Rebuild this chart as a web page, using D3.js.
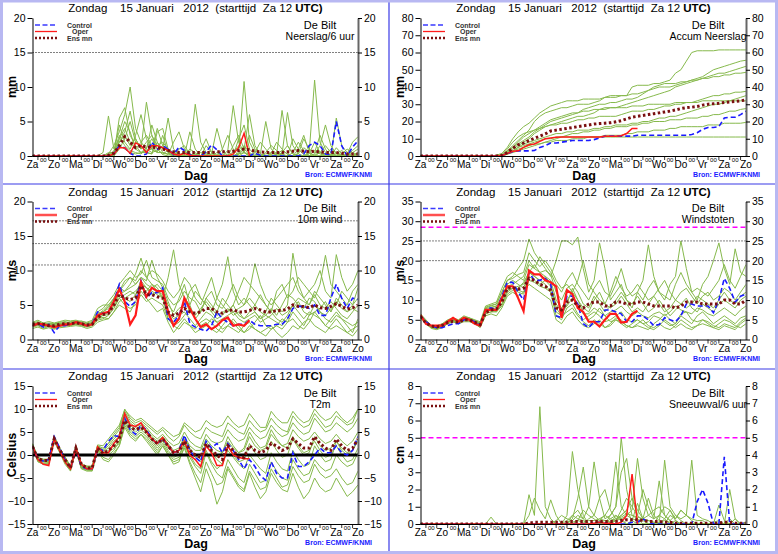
<!DOCTYPE html>
<meta charset="utf-8">
<script src="https://d3js.org/d3.v7.min.js"></script>
<style>
  body { margin: 0; background: #fff; }
</style>
<div id="pluim"></div>
<script>
// ---- data (6-hourly steps from Za 12 UTC, 61 steps = 15 days) ----
var dayLabels = ["Za","Zo","Ma","Di","Wo","Do","Vr","Za","Zo","Ma","Di","Wo","Do","Vr","Za","Zo"];

// Neerslag / 6 uur (mm)
var rainCtrl = [0,0,0,0, 0,0,0,0, 0,0,0,0, 0,0,0,0.3, 1.5,1.2,0.4,0, 0,0.3,2.0,1.0, 1.5,1.0,0.2,1.3, 0.8,0.2,0,0, 0.6,1.6,0.9,0, 0,0,0,0, 0,0.4,0.1,0, 0,0,0,0, 0,0,0.3,1.5, 2.0,1.5,0.3,0.2, 5.0,1.5,0,1.3, 2.2];
var rainOper = [0,0,0,0, 0,0,0,0, 0,0,0,0, 0,0,0,0.3, 1.2,1.2,0.4,1.9, 1.5,0.5,1.5,1.5, 1.2,0.8,0.3,0.1, 0.4,0.1,0,0, 0,0,0,0, 0,0.3,1.2,3.3, 0];
var rainMean = [0,0,0,0, 0,0,0,0, 0,0,0,0, 0,0,0.1,0.4, 1.5,2.8,2.0,1.2, 1.5,1.3,1.3,1.2, 1.0,0.8,0.6,0.5, 0.5,0.5,0.5,0.5, 0.5,0.5,0.6,0.6, 0.6,0.7,0.8,1.0, 0.9,0.7,0.6,0.5, 0.5,0.5,0.5,0.6, 0.7,0.8,0.7,0.6, 0.7,0.6,0.5,0.5, 0.5,0.4,0.3,0.3, 0.3];
var rainMembers = [
  [0,0,0,0, 0,0,0,0, 0,0,0,0, 0,0.5,5.8,1.0, 2.5,4.0,2.0,1.0, 0.5,1.2,2.5,1.0, 0.3,0.8,0.2,0, 0,0.5,7.5,2.0, 0.5,0.2,0,0, 0,1.5,3.0,1.0, 0.3,0,0,0.5, 1.5,0.8,0.2,0, 0,0.4,1.2,0.6, 0,0,0.3,1.0, 0.5,0.2,0,0.8, 1.5],
  [0,0,0,0, 0,0,0,0, 0,0,0,0, 0,0,0.3,1.5, 3.5,6.0,10.0,4.0, 2.0,1.0,0.5,0.8, 1.5,0.5,0,0, 0.2,1.0,0.5,0, 0,0.3,4.0,1.0, 0,0,0.5,10.8, 2.0,0.5,0,0, 0,0.3,0.8,0.3, 0,0,0,0.5, 11.0,2.0,0.5,0, 0,0.3,1.0,0.5, 0.2],
  [0,0,0,0, 0,0,0,0, 0,0,0,0, 0,0,0,0.8, 2.0,3.0,1.5,2.5, 1.0,7.8,3.0,1.5, 2.0,1.0,0.5,0.3, 0,0,0.2,0.5, 0.3,0,0,0, 0.8,7.3,2.0,0.5, 0,0,0.3,5.0, 1.0,0.3,0,0, 0.5,2.0,0.8,0, 0,0.5,0.3,0, 5.5,1.5,0.5,0, 0.5],
  [0,0,0,0, 0,0,0,0, 0,0,0,0, 0,0,0.5,0.5, 4.5,2.0,1.0,3.0, 6.0,2.5,1.0,4.0, 1.5,0.5,0.3,0.2, 0.5,0.3,0,0, 1.5,0.5,0,0, 0,0,0.2,1.0, 6.0,1.5,0.3,0, 0,0,0.5,1.5, 0.3,0,0,0, 0.2,0.5,1.5,0.5, 0,0,0.3,2.0, 2.8],
  [0,0,0,0, 0,0,0,0, 0,0,0,0, 0,0,0,0.2, 5.5,7.0,3.0,1.5, 0.5,0.8,1.0,0.5, 3.0,0.5,0,1.0, 1.5,0.3,0,0, 0,0,0.5,0, 0.2,0.5,1.5,0.5, 0,0,0,0.3, 0.5,0.2,6.6,1.5, 0.3,0,0,0, 0.8,0.3,0,0, 0,0,0,0.5, 1.0],
  [0,0,0,0, 0,0,0,0, 0,0,0,0, 0,0,0,0, 1.0,2.5,5.0,2.0, 1.5,0.5,0.3,2.0, 1.0,5.5,1.0,0.3, 0,0,0,0.8, 2.5,0.5,0,0, 0,0,0.3,0.5, 0.3,0,0,0, 0,0,0.3,6.3, 1.5,0.3,0,0.3, 2.0,0.5,0,0, 0.3,0.8,0.2,0, 0],
  [0,0,0,0, 0,0,0,0, 0,0,0,0, 0,0,0.2,0.5, 3.0,1.5,0.8,0.5, 0.3,1.0,4.5,2.0, 0.5,0.2,2.0,3.5, 1.0,0.3,0,0, 0,0,0,0.3, 0,0,2.5,4.5, 1.0,0.2,0,0, 0,0,0,0, 2.5,1.0,0.2,0, 0,0,0,0.3, 0,0,0,0, 0.5],
  [0,0,0,0, 0,0,0,0, 0,0,0,0, 0,0,0,0, 2.5,5.0,3.5,1.0, 2.0,3.0,1.5,0.5, 0.5,0.3,0,0, 0,3.5,1.0,0, 0,0,0.2,0, 0,0,0,0.5, 3.0,1.0,0,0, 0.2,0.5,0.3,0, 0,0.3,2.5,1.0, 0.5,3.0,1.0,0, 1.2,0.3,0,0, 0.3],
  [0,0,0,0, 0,0,0,0, 0,0,0,0, 0,0,0,0.3, 1.5,1.0,0.5,0.3, 0.5,0.5,0.3,3.5, 4.0,1.0,0.2,0, 0,0,0.3,0, 0,0,0,1.0, 3.0,1.0,0,0, 0,0.5,2.0,1.0, 0,0,0,0, 0,1.0,3.0,0.5, 0,0,0,0.2, 0.5,0,0,0, 0],
  [0,0,0,0, 0,0,0,0, 0,0,0,0, 0,0,0,0, 2.0,3.5,6.5,2.5, 1.0,2.0,3.0,1.0, 0.2,0,0,0, 0,0,0,0, 0.3,0,0,0, 0,0,0.3,1.5, 0.5,0,0,0, 0.4,2.0,1.0,0.2, 0,0,0,0, 0.3,1.5,4.5,1.5, 0.3,0,0,0, 0.3]
];

// Accumulated precipitation (mm)
var accCtrl = [0,0,0,0, 0,0,0,0, 0,0,0,0, 0,0,0,0.3, 1.5,2.5,3.0,3.0, 3.0,3.2,5.0,6.0, 7.5,7.5,8.0,8.5, 9.0,9.0,9.0,9.0, 9.5,10.5,11.5,11.5, 11.5,11.5,11.5,11.5, 12.0,12.0,12.0,12.0, 12.0,12.0,12.0,12.0, 12.0,12.0,12.5,13.5, 15.5,16.5,16.5,17.0, 22.0,22.5,22.5,24.0, 26.0];
var accOper = [0,0,0,0, 0,0,0,0, 0,0,0,0, 0,0,0,0.3, 1.5,2.7,3.0,5.0, 6.5,7.0,8.5,10.0, 10.5,10.8,11.0,11.0, 11.0,11.0,11.0,11.0, 11.0,11.0,11.5,11.5, 11.5,11.8,13.0,16.0, 16.0];
var accMean = [0,0,0,0, 0,0,0,0, 0,0,0,0, 0,0,0,0.4, 2.0,4.5,6.5,7.5, 9.0,10.3,11.5,12.8, 14.5,15.0,15.5,16.0, 16.5,17.0,17.5,18.0, 18.5,18.8,19.0,19.3, 19.8,20.5,21.5,22.5, 23.0,23.5,24.0,24.5, 25.0,25.5,26.0,26.7, 27.5,28.0,28.3,28.7, 29.5,30.0,30.3,30.6, 31.0,31.3,31.6,32.0, 32.5];
var accMembers = [
  [0,0,0,0, 0,0,0,0, 0,0,0,0, 0,0,0.5,1.5, 5,10,14,17, 19,22,25,27, 29,30,31,32, 32,32,33,33, 33,33,34,34, 34,35,35,40, 41,41,41,42, 42,43,44,48, 50,55,60,61, 61,61,61,61.5, 61.5,61.5,61.5,61.5, 61.5],
  [0,0,0,0, 0,0,0,0, 0,0,0,0, 0,0,0,0.5, 3,6,9,12, 15,20,23,25, 26,27,28,28, 29,30,30,30, 31,32,34,35, 35,35,35,36, 36,37,38,39, 40,40,40,41, 42,43,44,45, 46,48,50,51, 52,53,54,55, 55.5],
  [0,0,0,0, 0,0,0,0, 0,0,0,0, 0,0,0,0.3, 2,4,6,8, 10,13,15,17, 18,19,20,21, 22,23,23,24, 25,27,28,28, 28,29,30,31, 32,33,34,35, 36,37,38,40, 41,42,43,44, 45,46,47,48, 48,49,50,51, 52],
  [0,0,0,0, 0,0,0,0, 0,0,0,0, 0,0,0.2,0.8, 4,8,11,13, 14,15,16,17, 18,18,19,19, 20,21,21,22, 22,23,23,23, 23,24,25,26, 26,26,27,27, 28,29,29,30, 30,31,31,32, 33,34,35,35, 36,36,37,37, 37.5],
  [0,0,0,0, 0,0,0,0, 0,0,0,0, 0,0,0,0, 1,3,5,7, 8,9,10,11, 12,13,13,14, 14,15,15,15, 16,16,17,17, 18,18,18,19, 19,20,20,21, 22,22,23,23, 24,25,26,27, 28,29,30,30, 31,32,33,34, 35],
  [0,0,0,0, 0,0,0,0, 0,0,0,0, 0,0,0,0.2, 2,3,4,5, 6,7,7,8, 8,9,9,9, 10,10,10,11, 11,11,12,12, 12,12,13,13, 14,14,14,15, 15,15,16,16, 17,17,17,17, 17,18,18,18, 19,19,19,19, 19.5],
  [0,0,0,0, 0,0,0,0, 0,0,0,0, 0,0,0,0.5, 3,5,8,11, 13,15,17,19, 21,22,23,24, 25,25,26,26, 27,27,27,28, 28,28,28,29, 29,29,30,30, 30,30,30,31, 31,31,31,31, 32,32,32,32, 32,32,32,32, 32],
  [0,0,0,0, 0,0,0,0, 0,0,0,0, 0,0,0,0, 1.5,3,5,6, 7,8,9,10, 10,11,11,11, 11,11,11,11, 11,11,11,11, 11,11,11,11, 11,11,11,11, 11,11,11,11, 11,11,11,11, 11,11,11,11, 11,11,11,11, 11],
  [0,0,0,0, 0,0,0,0, 0,0,0,0, 0,0,0,0.4, 2.5,5,7,9, 11,14,16,18, 20,21,22,23, 24,25,27,28, 29,30,30,31, 31,32,33,33, 34,36,38,40, 41,42,42,42, 43,43,44,44, 45,45,46,46, 47,47,48,48, 48.5],
  [0,0,0,0, 0,0,0,0, 0,0,0,0, 0,0,0,0, 1,2,3,4, 5,6,7,8, 9,10,11,12, 13,13,14,14, 15,15,16,16, 17,17,17,18, 18,19,19,20, 20,20,21,21, 21,22,22,22, 23,23,24,24, 25,26,26,27, 27.5]
];

// 10 m wind (m/s)
var windCtrl = [2.0,2.3,1.8,2.2, 1.0,2.0,2.0,2.2, 2.5,2.3,2.0,2.3, 4.0,3.8,4.0,5.5, 8.0,5.5,4.8,5.5, 8.5,6.0,6.8,6.8, 7.5,3.0,2.5,3.5, 5.5,2.3,1.8,1.5, 1.2,2.0,4.0,3.0, 2.5,2.0,2.2,2.2, 2.8,2.2,2.0,2.0, 2.0,2.2,2.2,3.0, 4.5,4.8,4.8,4.5, 5.0,3.5,3.5,6.0, 8.0,6.0,4.5,6.0, 5.8];
var windOper = [2.0,2.3,2.2,2.0, 1.8,2.0,2.2,2.2, 2.5,2.3,2.0,2.2, 3.5,3.8,4.0,5.5, 7.3,5.5,2.2,3.5, 8.3,6.2,7.5,7.0, 7.0,4.0,2.0,3.0, 6.0,4.5,3.0,1.8, 2.2,1.5,2.0,2.8, 3.2,2.0,2.2,2.0, 2.8];
var windMean = [2.2,2.3,2.2,2.0, 2.0,2.2,2.3,2.3, 2.4,2.3,2.1,2.2, 3.2,3.6,3.8,5.0, 6.5,6.0,5.8,6.0, 7.8,6.5,6.5,6.2, 6.0,4.0,3.5,3.8, 4.5,4.0,3.8,4.0, 4.5,4.5,4.0,3.8, 4.2,4.3,4.0,4.0, 4.2,4.5,4.3,4.0, 4.0,4.2,4.2,4.4, 5.0,4.8,4.8,4.6, 5.0,4.6,4.5,4.8, 5.2,4.8,4.4,4.6, 5.0];
var windMembers = [
  [2.2,2.5,2.0,2.3, 2.0,2.2,2.5,2.4, 2.6,2.4,2.1,2.5, 3.5,4.0,4.5,6.0, 7.5,7.0,8.0,9.5, 11.8,9.0,8.0,7.0, 6.0,9.0,13.0,8.0, 6.0,5.0,7.0,6.0, 5.0,4.0,6.0,8.0, 12.0,7.0,5.0,6.0, 5.0,4.0,3.0,4.0, 6.0,5.0,4.0,5.0, 12.5,8.0,6.0,5.0, 7.0,6.0,5.0,4.0, 6.0,5.0,4.0,5.0, 6.0],
  [1.8,2.0,1.6,1.9, 1.6,1.9,2.0,2.1, 2.2,2.0,1.8,2.0, 2.8,3.0,3.5,4.5, 6.0,5.0,4.5,5.0, 6.5,5.5,6.0,5.5, 5.0,3.0,2.0,1.5, 2.5,2.0,1.0,1.5, 2.0,3.0,2.5,1.5, 2.0,1.5,1.0,2.0, 2.5,1.5,1.0,1.5, 2.0,1.0,0.3,1.0, 2.0,1.5,2.5,3.0, 2.0,1.5,1.0,2.0, 3.0,2.0,1.0,1.5, 2.0],
  [2.4,2.6,2.3,2.2, 2.3,2.5,2.6,2.4, 2.5,2.7,2.4,2.6, 4.0,4.5,5.5,6.5, 8.0,9.0,10.0,9.0, 9.5,11.5,9.0,8.5, 8.0,6.0,5.0,5.5, 7.0,6.0,5.5,4.0, 6.0,7.0,5.0,4.5, 6.0,8.0,6.0,5.0, 7.0,11.0,8.0,6.0, 5.0,6.0,7.0,8.0, 9.0,7.0,6.0,7.0, 8.0,10.0,7.0,6.0, 12.3,9.0,7.0,8.0, 10.0],
  [2.0,2.1,1.8,2.0, 2.1,2.2,2.0,2.3, 2.4,2.2,2.0,2.1, 3.0,3.2,3.0,4.0, 5.0,4.5,4.0,5.5, 7.0,6.0,5.0,4.0, 4.5,2.5,1.0,2.0, 3.0,2.0,1.5,2.5, 3.0,2.5,1.5,1.0, 2.0,3.0,2.0,1.0, 1.5,2.5,3.5,2.0, 1.5,2.0,3.0,2.5, 4.0,3.0,2.0,3.5, 5.0,4.0,3.0,2.5, 3.5,3.0,2.0,1.0, 3.0],
  [2.5,2.8,2.4,2.6, 2.4,2.6,2.8,2.7, 2.8,2.6,2.5,2.8, 4.5,5.0,5.0,6.0, 7.0,8.0,9.0,8.5, 10.0,9.0,10.0,9.5, 8.5,7.0,6.0,7.0, 9.0,8.0,6.0,5.0, 7.0,9.0,6.0,5.0, 4.0,5.0,7.0,9.0, 8.0,7.0,6.0,5.0, 4.0,7.0,8.0,6.0, 7.0,9.0,8.0,7.0, 6.0,8.0,12.2,8.0, 7.0,6.0,5.0,7.0, 8.0],
  [1.6,1.8,1.5,1.7, 1.5,1.7,1.8,1.9, 2.0,1.9,1.6,1.8, 2.5,2.8,3.0,4.0, 5.5,6.0,6.5,7.0, 8.0,7.5,6.5,7.0, 6.5,4.0,3.0,3.5, 4.0,3.0,2.0,3.0, 4.0,3.5,2.5,3.0, 3.5,4.0,3.0,2.5, 3.0,3.5,2.5,3.0, 3.5,4.5,3.5,4.0, 5.0,4.0,3.0,4.0, 3.5,3.0,2.0,1.5, 2.0,1.5,1.0,0.5, 1.5],
  [2.1,2.4,2.1,2.3, 2.2,2.4,2.3,2.5, 2.6,2.5,2.2,2.4, 3.8,4.0,4.8,5.5, 6.5,7.0,7.5,8.0, 9.0,8.0,7.5,8.0, 7.0,5.0,4.0,6.0, 8.0,5.0,3.0,4.0, 6.0,5.0,4.0,6.0, 5.0,4.0,4.5,5.0, 6.0,5.0,4.0,3.5, 4.5,3.5,5.0,6.5, 6.0,5.0,4.5,6.0, 5.5,4.0,3.5,4.5, 5.0,7.0,6.0,5.0, 7.5],
  [1.9,2.2,2.0,2.1, 1.9,2.1,2.3,2.2, 2.3,2.2,1.9,2.2, 3.2,3.5,4.0,4.8, 6.0,6.5,7.0,6.5, 7.5,7.0,8.0,7.5, 6.0,3.0,2.0,2.5, 3.5,4.5,3.0,2.0, 2.5,1.5,1.0,2.0, 3.0,2.5,1.5,1.0, 2.0,1.5,1.0,0.5, 1.5,2.0,1.5,2.5, 3.0,2.0,1.5,2.5, 4.0,3.0,2.0,3.0, 4.0,3.0,2.5,2.0, 2.5],
  [2.3,2.4,2.2,2.4, 2.3,2.3,2.4,2.6, 2.7,2.3,2.3,2.4, 3.6,4.2,5.0,5.8, 7.0,8.5,9.0,8.0, 9.0,8.5,11.5,9.0, 7.5,5.5,3.5,4.5, 5.0,7.0,8.0,6.0, 5.0,4.0,3.0,3.5, 4.5,3.5,4.0,3.0, 4.0,5.0,6.5,5.0, 4.0,3.0,2.5,3.5, 5.0,6.0,5.5,5.0, 6.5,5.0,4.5,5.5, 4.5,3.5,3.0,4.0, 5.0],
  [2.0,2.2,1.9,2.0, 2.0,2.1,2.2,2.0, 2.2,2.1,2.0,2.2, 3.0,3.5,3.6,5.0, 6.5,6.0,5.5,6.5, 8.5,7.5,7.0,6.5, 6.0,3.5,2.5,3.0, 6.0,4.0,3.5,4.5, 5.5,4.5,3.5,4.0, 4.0,5.0,3.5,3.0, 3.5,4.0,3.0,3.5, 3.0,2.5,2.0,3.0, 4.5,5.5,4.0,3.5, 4.0,4.5,5.5,4.0, 5.5,4.5,4.0,4.5, 4.0]
];

// Windstoten (m/s)
var gustCtrl = [6.0,4.5,3.5,3.0, 3.0,3.5,4.0,4.0, 5.0,5.0,4.5,3.5, 7.5,8.0,7.5,11.0, 14.5,14.5,12.0,10.0, 17.0,15.0,15.0,15.5, 14.0,6.0,5.5,11.0, 11.0,9.0,4.0,3.0, 4.5,4.5,7.5,7.5, 7.0,6.5,4.5,4.5, 6.0,6.0,5.0,3.5, 3.8,5.5,5.0,4.5, 6.0,9.0,9.0,8.5, 8.5,8.5,6.8,10.0, 15.5,13.0,9.5,11.0, 11.5];
var gustOper = [6.2,4.0,3.5,3.5, 3.5,4.5,5.5,4.5, 5.5,5.0,4.0,3.5, 7.5,7.5,7.5,10.5, 13.5,13.5,10.5,7.2, 17.5,16.5,16.5,15.0, 14.5,13.5,5.5,12.5, 11.5,8.0,7.0,4.5, 4.5,3.3,5.0,6.5, 6.5,4.3,4.5,6.5, 7.3];
var gustMean = [5.8,4.2,3.4,3.2, 3.6,4.3,4.6,4.4, 5.0,5.0,4.4,3.8, 6.8,7.5,7.8,9.5, 13.0,13.2,12.8,13.0, 15.5,15.0,14.0,13.5, 12.5,8.0,7.5,9.5, 10.0,8.5,8.0,9.0, 9.5,9.5,8.5,8.5, 9.5,9.5,9.0,9.0, 9.5,9.5,9.0,8.5, 8.5,8.5,8.5,8.0, 8.5,9.5,9.5,9.5, 9.0,9.0,9.0,9.0, 10.0,10.0,9.0,9.0, 10.0];
var gustMembers = [
  [6.0,4.5,3.0,3.0, 3.5,4.5,5.0,4.5, 5.5,5.5,4.5,4.0, 8.0,8.5,9.0,12.0, 15.0,16.0,18.0,20.0, 25.5,22.0,20.0,18.0, 16.0,20.0,25.0,25.0, 24.0,26.0,18.0,12.0, 15.0,24.5,18.0,10.0, 12.0,14.0,10.0,8.0, 12.0,15.0,24.0,16.0, 12.0,10.0,14.0,16.0, 25.0,18.0,12.0,10.0, 14.0,16.0,20.0,24.5, 18.0,14.0,23.0,17.0, 16.0],
  [5.5,4.0,2.8,2.5, 3.0,4.0,4.5,4.0, 4.5,4.5,4.0,3.0, 6.0,6.5,6.0,8.0, 11.0,12.0,11.0,12.0, 14.0,13.0,12.0,11.0, 10.0,5.0,4.0,6.0, 7.0,5.0,3.5,3.0, 4.0,5.0,3.0,3.5, 5.0,4.0,3.0,4.0, 5.0,4.0,3.0,2.5, 3.5,5.0,4.0,3.0, 4.0,3.0,2.5,3.5, 5.0,4.0,3.0,2.5, 3.5,3.0,2.5,4.0, 5.0],
  [6.5,5.0,3.5,3.5, 4.0,5.0,5.5,5.0, 6.0,5.5,5.0,4.5, 8.5,9.0,9.5,13.0, 16.0,17.0,16.0,15.0, 19.0,18.0,21.0,19.0, 17.0,14.0,12.0,15.0, 17.0,14.0,12.0,10.0, 13.0,15.0,12.0,11.0, 14.0,18.0,13.0,11.0, 12.0,10.0,13.0,15.0, 12.0,11.0,10.0,14.0, 17.0,14.0,12.0,13.0, 12.0,11.0,13.0,15.0, 19.0,15.0,13.0,16.0, 19.0],
  [5.8,4.2,3.2,2.8, 3.2,4.2,4.8,4.2, 5.0,5.0,4.2,3.2, 6.5,7.0,7.5,9.0, 12.5,13.0,12.0,11.5, 15.0,14.5,13.5,13.0, 12.0,6.0,5.0,8.0, 9.0,6.5,5.0,6.0, 7.0,6.0,4.5,5.0, 6.0,7.0,5.0,4.5, 5.0,4.0,4.5,6.0, 5.5,4.5,3.5,4.0, 6.0,5.0,4.0,6.0, 7.0,5.5,4.0,5.0, 6.0,5.0,4.0,5.5, 6.0],
  [6.2,4.5,3.3,3.2, 3.8,4.8,5.2,4.8, 5.5,5.2,4.8,4.2, 7.5,8.0,8.5,11.0, 14.0,15.0,14.0,13.0, 17.0,16.0,15.0,16.0, 15.0,10.0,8.0,10.0, 12.0,10.0,8.0,7.0, 10.0,12.0,9.0,8.0, 9.0,11.0,9.0,7.0, 8.0,7.0,9.0,11.0, 9.0,7.0,8.0,10.0, 9.0,8.0,9.0,11.0, 10.0,9.0,8.0,10.0, 12.0,10.0,9.0,11.0, 12.0],
  [5.5,4.0,3.0,3.0, 3.5,4.3,4.7,4.3, 5.2,4.8,4.3,3.5, 7.0,7.5,7.0,9.0, 12.0,13.0,13.5,14.0, 17.0,19.0,17.0,16.0, 14.0,8.0,6.0,9.0, 13.0,10.0,7.0,5.0, 6.0,8.0,6.0,4.5, 5.0,4.5,3.5,3.0, 4.0,5.0,3.5,3.0, 4.0,3.0,2.5,3.5, 5.0,4.0,3.0,3.5, 4.0,3.5,3.0,4.0, 5.0,4.5,3.5,3.0, 4.0],
  [6.0,4.3,3.3,3.0, 3.3,4.5,5.0,4.6, 5.4,5.2,4.5,3.8, 7.8,8.2,8.5,10.5, 13.5,14.0,15.0,16.0, 20.0,18.0,17.0,17.5, 16.5,12.0,10.0,13.0, 14.0,12.0,9.0,8.0, 11.0,9.0,7.0,8.5, 10.0,12.0,10.0,9.0, 11.0,9.0,7.0,8.0, 10.0,8.0,6.0,7.5, 9.0,10.5,8.0,7.0, 9.0,8.0,7.0,9.0, 10.0,9.0,8.0,10.0, 11.0],
  [5.8,4.0,3.0,2.7, 3.2,4.0,4.5,4.0, 4.8,4.7,4.0,3.3, 6.8,7.0,7.0,8.5, 11.5,12.5,13.0,14.5, 17.0,16.0,15.0,14.0, 12.0,7.0,6.0,7.0, 8.0,6.0,4.5,3.5, 5.0,4.0,3.0,4.0, 5.5,5.0,3.5,3.0, 3.5,3.0,2.5,4.0, 5.0,6.5,5.0,4.0, 6.5,7.0,5.0,4.5, 5.0,4.5,3.5,3.0, 4.0,3.5,3.0,4.5, 5.5],
  [6.3,4.8,3.6,3.3, 3.7,4.8,5.3,4.9, 5.7,5.4,4.9,4.0, 8.2,8.7,9.0,12.0, 15.0,15.5,16.5,17.0, 22.0,20.0,18.5,20.0, 18.0,15.0,13.0,14.0, 12.0,15.0,20.0,14.0, 12.0,10.0,9.0,12.0, 16.0,13.0,11.0,12.0, 14.0,12.0,10.0,11.0, 13.0,15.0,12.0,10.0, 12.0,13.0,11.0,9.0, 11.0,12.0,10.0,11.0, 13.0,12.0,10.0,12.0, 14.0],
  [5.7,4.1,3.1,2.9, 3.4,4.4,4.9,4.4, 5.1,5.0,4.4,3.6, 7.2,7.8,8.0,9.8, 13.0,13.5,12.5,12.0, 16.0,15.0,14.0,15.0, 13.5,9.0,7.0,8.5, 10.5,8.5,6.5,6.5, 8.0,7.0,6.0,7.0, 7.5,8.5,7.0,6.0, 7.0,6.0,5.5,6.5, 7.0,6.0,7.0,8.5, 7.5,7.0,6.5,8.0, 7.5,6.5,6.0,7.0, 8.0,7.0,6.0,7.5, 8.5]
];

// T2m (Celsius)
var tempCtrl = [2.0,-1.0,-1.3,-1.0, 4.0,1.5,-1.0,-3.0, 1.5,-2.5,-3.0,-3.0, 1.5,1.0,3.0,4.2, 4.0,8.0,5.5,4.5, 6.5,5.5,3.5,2.5, 3.5,2.0,0.5,1.0, 4.3,1.0,-0.5,-1.5, 3.0,1.5,2.5,0.5, 2.5,1.0,-1.0,-3.0, -1.0,-2.5,-4.5,-5.5, -1.5,-4.0,-5.0,-5.0, 0.5,-2.5,-2.5,-1.5, 0.0,1.5,0.5,0.5, 2.0,0.5,0.0,1.0, 4.0];
var tempOper = [2.0,-1.0,-2.0,-2.3, 3.5,1.0,-1.5,-3.0, 1.5,-2.0,-3.0,-3.0, 1.8,0.5,0.5,2.5, 4.0,9.0,6.5,6.2, 7.0,5.0,3.5,2.5, 3.8,2.0,0.5,1.0, 3.0,0.0,-1.0,-2.5, 2.0,0.5,-2.3,-2.3, 2.0,0.0,-0.5,-0.8, -0.8];
var tempMean = [1.8,-0.8,-1.2,-1.2, 3.5,1.2,-1.0,-2.8, 1.5,-2.0,-2.8,-2.8, 1.5,0.3,1.0,2.0, 3.5,7.5,6.0,5.5, 6.0,5.0,3.5,2.5, 3.5,2.0,0.5,0.8, 3.0,1.0,0.0,-0.5, 2.5,1.0,0.0,-1.0, 2.0,1.0,-0.5,-0.5, 2.0,1.0,0.5,1.0, 2.5,2.0,1.0,1.5, 3.5,2.5,1.5,1.5, 4.0,2.5,1.5,1.0, 3.5,2.0,1.0,1.5, 3.5];
var tempMembers = [
  [2.5,-0.5,-1.0,-1.0, 4.0,1.5,-0.5,-2.5, 2.0,-2.0,-2.5,-2.5, 2.0,1.5,2.5,4.5, 6.0,10.0,8.0,7.0, 7.5,6.5,5.5,4.5, 5.5,4.0,3.0,4.0, 6.5,5.0,4.0,3.5, 6.0,5.0,4.5,4.0, 7.0,6.0,5.0,4.5, 7.5,6.0,5.0,5.5, 8.0,6.5,5.5,5.0, 8.5,7.0,6.0,6.5, 9.0,7.5,6.0,6.5, 8.5,7.5,6.5,7.0, 10.0],
  [1.5,-1.5,-2.0,-2.0, 3.0,0.5,-2.0,-3.5, 1.0,-3.0,-3.5,-3.5, 1.0,-1.0,-1.5,0.0, 2.0,6.0,4.0,3.0, 4.5,3.0,1.5,0.0, 2.0,0.0,-1.5,-1.0, 1.5,-2.0,-5.0,-8.0, -3.0,-6.0,-10.7,-8.0, -3.0,-5.0,-7.0,-8.0, -4.0,-7.0,-9.5,-8.0, -4.0,-6.0,-7.5,-8.0, -4.0,-7.0,-9.5,-8.0, -5.0,-7.0,-8.0,-7.5, -5.0,-7.0,-9.0,-8.0, -6.5],
  [2.0,-1.0,-1.5,-1.5, 3.5,1.0,-1.0,-3.0, 1.5,-2.5,-3.0,-3.0, 1.5,0.5,1.0,2.0, 3.0,8.0,6.0,5.0, 6.0,5.0,3.5,2.0, 3.5,1.5,0.5,1.0, 3.5,1.0,-0.5,-1.5, 2.0,0.5,-1.0,-2.0, 1.0,-0.5,-2.0,-3.0, 0.0,-1.5,-3.0,-4.0, 0.5,-1.5,-3.0,-3.5, 1.0,-1.0,-2.5,-2.0, 2.0,0.0,-1.5,-1.0, 3.0,1.0,0.0,1.0, 3.5],
  [2.2,-0.8,-1.2,-1.3, 3.8,1.2,-0.8,-2.8, 1.8,-2.2,-2.8,-2.8, 2.0,1.0,2.0,3.5, 4.5,9.0,7.0,6.0, 7.0,6.0,4.5,3.5, 4.5,3.0,2.0,2.5, 5.0,3.0,2.0,1.5, 4.5,3.0,2.5,3.0, 5.5,4.0,3.0,3.5, 6.0,4.5,3.5,4.0, 6.5,5.0,4.0,4.5, 7.0,5.5,4.5,5.0, 8.0,6.5,5.0,5.5, 7.0,6.0,5.0,6.0, 8.0],
  [1.8,-1.3,-1.8,-1.8, 3.2,0.8,-1.5,-3.2, 1.2,-2.8,-3.2,-3.3, 1.2,0.0,0.5,1.5, 2.5,7.0,5.0,4.0, 5.0,4.0,2.5,1.0, 2.5,0.5,-1.0,-0.5, 2.5,-0.5,-2.5,-4.0, 0.5,-2.0,-4.0,-5.0, -1.0,-3.0,-5.0,-6.0, -2.0,-4.0,-6.0,-5.5, -1.5,-3.5,-5.0,-5.5, -1.0,-3.0,-4.5,-4.0, -1.0,-2.5,-3.5,-3.0, 0.0,-1.5,-2.5,-2.0, 0.5],
  [2.3,-0.7,-1.1,-1.2, 3.7,1.3,-0.9,-2.7, 1.7,-2.3,-2.7,-2.7, 1.7,1.2,2.5,4.0, 5.5,9.5,7.5,6.5, 6.5,5.5,4.0,3.0, 4.0,2.5,1.0,1.5, 4.0,2.0,1.0,1.0, 3.5,2.0,1.0,0.5, 3.0,1.5,0.5,1.0, 4.0,2.0,1.0,1.5, 4.5,3.0,2.0,2.5, 5.5,4.0,3.0,3.5, 5.0,3.5,2.5,3.0, 4.5,3.0,2.0,3.0, 5.0],
  [1.9,-1.1,-1.5,-1.6, 3.3,1.0,-1.2,-3.0, 1.4,-2.6,-3.0,-3.1, 1.4,0.3,0.0,1.0, 3.0,7.5,5.5,4.5, 5.5,4.5,3.0,1.5, 3.0,1.0,-0.5,0.0, 2.5,0.0,-2.0,-3.0, 1.0,-1.5,-3.0,-2.0, 2.0,0.0,-1.5,-1.0, 2.5,0.5,-1.0,-0.5, 3.0,1.0,-0.5,0.0, 3.5,1.5,0.0,0.5, 4.0,2.0,1.0,1.5, 3.0,1.5,0.5,1.0, 3.0],
  [2.1,-0.9,-1.4,-1.4, 3.6,1.1,-1.1,-2.9, 1.6,-2.4,-2.9,-2.9, 1.6,0.8,1.5,3.0, 4.0,8.5,6.5,5.5, 6.5,5.0,3.5,2.5, 3.5,2.0,0.5,1.0, 4.0,1.5,0.0,-1.0, 3.0,1.0,-0.5,0.5, 4.0,2.0,0.5,1.5, 5.0,3.0,1.5,2.0, 5.5,3.5,2.0,1.5, 4.0,2.0,0.5,1.0, 3.0,1.0,-0.5,0.0, 2.0,0.0,-1.5,-1.0, 1.5],
  [1.7,-1.4,-2.0,-2.0, 3.0,0.7,-1.7,-3.3, 1.1,-2.9,-3.3,-3.4, 1.0,-0.5,-1.0,0.5, 2.0,6.5,4.5,3.5, 4.5,3.5,2.0,0.5, 2.0,0.0,-2.0,-1.5, 2.0,-1.5,-4.0,-6.0, -1.5,-4.0,-6.5,-6.0, -2.5,-4.5,-6.5,-7.5, -3.5,-5.5,-7.5,-7.0, -3.0,-5.0,-7.0,-6.5, -2.5,-4.5,-6.0,-5.5, -2.0,-4.0,-5.0,-4.5, -3.0,-5.0,-6.5,-6.0, -3.5],
  [2.4,-0.6,-0.9,-0.9, 4.2,1.6,-0.4,-2.4, 2.1,-1.9,-2.4,-2.4, 2.2,2.0,3.5,5.0, 6.5,9.8,8.5,7.5, 8.0,7.0,6.0,5.0, 6.0,5.0,4.0,4.5, 7.0,6.0,5.0,5.5, 7.5,6.5,6.0,6.5, 8.5,7.0,6.0,6.5, 9.0,7.5,6.0,6.0, 9.5,8.0,7.0,7.0, 9.5,8.0,7.0,7.5, 10.0,8.5,7.5,8.0, 9.5,8.0,7.0,8.0, 10.0]
];

// Sneeuwval / 6 uur (cm)
var snowCtrl = [0,0,0,0, 0,0,0,0, 0,0,0,0, 0,0,0,0, 0,0,0,0, 0,0,0,0, 0,0,0,0, 0,0,0,0, 0.05,0.1,0.05,0, 0,0,0,0.1, 0.1,0.3,0.1,0, 0,0,0,0, 0,0,0,1.3, 2.0,1.2,0,0, 3.9,0,0,0, 0.1];
var snowOper = [0,0,0,0, 0,0,0,0, 0,0,0,0, 0,0,0,0, 0,0,0,0, 0,0,0,0, 0,0,0,0, 0,0,0,0, 0.05,0.1,0.05,0.05, 0,0.1,0.5,2.9, 0];
var snowMean = [0,0,0,0, 0,0,0,0, 0,0,0,0, 0,0,0,0, 0,0,0,0, 0.05,0.1,0.1,0.1, 0.1,0.1,0.1,0.1, 0.15,0.15,0.15,0.15, 0.15,0.15,0.15,0.15, 0.15,0.2,0.25,0.25, 0.25,0.2,0.15,0.15, 0.15,0.1,0.1,0.05, 0.05,0.05,0.05,0.05, 0.05,0.05,0.05,0.05, 0.1,0.1,0.05,0.05, 0.05];
var snowMembers = [
  [0,0,0,0, 0,0,0,0, 0,0,0,0, 0,0.4,0,0, 0,0,0,0, 1.7,0.5,6.8,1.0, 0.3,0,0,0.5, 4.2,2.0,0.5,0, 0,0,0,0.3, 0.5,0.2,0,0, 0,0,0,0, 0,0,0,0, 0,0,0,0, 0,0,0,0, 0,0,0,0, 0],
  [0,0,0,0, 0,0,0,0, 0,0,0,0, 0,0,0,0, 0,0,0,0, 0.5,1.5,0.8,0.3, 1.4,0.5,0,0, 0.3,1.5,3.3,1.0, 0.5,0.2,0,0.5, 1.0,5.0,2.0,0.5, 0.3,0,0,0, 0.5,0.3,0,0.2, 0,0,0,0, 0,0,0,0, 0,0,0,0, 0],
  [0,0,0,0, 0,0,0,0, 0,0,0,0, 0,0,0,0, 0,0,0,0, 0,0,0,0, 0,0.2,0.5,0.3, 0.2,0.5,0.3,1.0, 3.6,1.5,0.3,0.5, 1.0,3.0,3.8,1.5, 0.5,0.2,0,0, 0,3.7,1.0,0.5, 0.2,0,0,0, 0,0,0,0, 0,0,0,0, 0],
  [0,0,0,0, 0,0,0,0, 0,0,0,0, 0,0,0,0, 0,0,0,0, 0,0,0,0, 0,0,0,0.2, 0.5,0.8,0.3,0, 0,0.2,0.5,1.0, 3.6,1.0,0.5,0.8, 3.8,1.5,0.5,0.3, 2.5,0.5,0.2,0, 0,0,0,0, 0,0,0,0, 0,0,0,0, 0],
  [0,0,0,0, 0,0,0,0, 0,0,0,0, 0,0,0,0, 0,0,0,0, 0,0,0,0, 0,0,0,0, 0,0.2,0.8,0.5, 0.3,0,0,0, 0.2,0.8,1.5,1.0, 0.5,2.0,1.0,0.3, 0.5,1.0,0.8,0.3, 0.8,0.5,0.3,0.2, 0.2,0,0,1.1, 0.2,0,0.3,0, 0],
  [0,0,0,0, 0,0,0,0, 0,0,0,0, 0,0,0,0, 0,0,0,0, 0,0,0,0, 0,0,0,0, 0,0,0,0.3, 0.5,1.5,2.0,0.8, 0.3,0.5,0.8,0.2, 0,0.3,0.5,0.8, 1.0,0.5,0.2,0.5, 0.3,0.5,3.7,0.5, 0.3,0.2,0,0, 0,2.0,0.3,0, 0.1],
  [0,0,0,0, 0,0,0,0, 0,0,0,0, 0,0,0,0, 0,0,0,0, 0,0,0,0, 0,0,0,0, 0,0,0,0, 0,0.3,0.5,0.3, 0.2,0.5,0.8,1.5, 0.8,0.3,1.5,0.5, 0.2,0,0.5,0.3, 0.8,0.5,0.2,0, 0,0,0.1,0.2, 0,0.3,0,0, 0],
  [0,0,0,0, 0,0,0,0, 0,0,0,0, 0,0,0,0, 0,0,0,0, 0,0,0,0, 0,0,0,0, 0.5,0.3,0.2,0, 0,0,0,0, 0.5,0.3,0,0.2, 1.2,0.3,0,0, 0,0.3,0.8,0.2, 0,0,0,0, 0,0,0,0, 0,0,0,0, 0.1],
  [0,0,0,0, 0,0,0,0, 0,0,0,0, 0,0,0,0, 0,0,0,0, 0,0,0,0, 0,0,0,0, 0,0,0,0, 0,0.1,0.2,0.1, 0.3,0.4,0.6,0.5, 0.4,0.3,0.2,0.1, 0,0,0,0, 0,0,0,0, 0,0,0,0, 0,0,0,0, 0],
  [0,0,0,0, 0,0,0,0, 0,0,0,0, 0,0,0,0, 0,0,0,0, 0,0,0,0, 0,0,0,0, 0.1,0.2,0.1,0.2, 0.2,0.3,0.2,0.1, 0.2,0.3,0.5,0.3, 0.2,0.3,0.2,0.1, 0.1,0.2,0.1,0, 0,0,0,0, 0,0,0,0, 0,0,0,0, 0]
];

// axis ticks
var rainTicks = [0,5,10,15,20];
var accTicks  = [0,10,20,30,40,50,60,70,80];
var windTicks = [0,5,10,15,20];
var gustTicks = [0,5,10,15,20,25,30,35];
var tempTicks = [-15,-10,-5,0,5,10,15];
var snowTicks = [0,1,2,3,4,5,6,7,8];

var panels = [
  {dom:[0,20],   ticks:rainTicks, unit:"mm",      name:"Neerslag/6 uur",  members:rainMembers, ctrl:rainCtrl, oper:rainOper, mean:rainMean, ref:[{v:15,s:"dot"}], thick:false},
  {dom:[0,80],   ticks:accTicks,  unit:"mm",      name:"Accum Neerslag",  members:accMembers,  ctrl:accCtrl,  oper:accOper,  mean:accMean,  ref:[], thick:false},
  {dom:[0,20],   ticks:windTicks, unit:"m/s",     name:"10m wind",        members:windMembers, ctrl:windCtrl, oper:windOper, mean:windMean, ref:[{v:10.8,s:"dot"},{v:13.9,s:"dot"},{v:17.2,s:"dot"}], thick:true},
  {dom:[0,35],   ticks:gustTicks, unit:"m/s",     name:"Windstoten",      members:gustMembers, ctrl:gustCtrl, oper:gustOper, mean:gustMean, ref:[{v:20,s:"dot"},{v:25,s:"dot"},{v:28.5,s:"mag"}], thick:true},
  {dom:[-15,15], ticks:tempTicks, unit:"Celsius", name:"T2m",             members:tempMembers, ctrl:tempCtrl, oper:tempOper, mean:tempMean, ref:[{v:0,s:"zero"}], thick:false},
  {dom:[0,8],    ticks:snowTicks, unit:"cm",      name:"Sneeuwval/6 uur", members:snowMembers, ctrl:snowCtrl, oper:snowOper, mean:snowMean, ref:[{v:5,s:"mag"}], thick:false}
];

// ---- drawing ----
var W = 778, H = 554;
var FONT = "'Liberation Sans', Arial, Helvetica, sans-serif";
var NARROW = "'Liberation Sans Narrow', 'Liberation Sans', Arial, sans-serif";
var colX = [0, 388], rowY = [0, 183.5, 368];

var svg = d3.select("#pluim").append("svg")
    .attr("width", W).attr("height", H)
    .style("font-family", FONT);

svg.append("rect").attr("width", W).attr("height", H).attr("fill", "#fff");

panels.forEach(function(p, k) {
  var ox = colX[k % 2], oy = rowY[Math.floor(k / 2)];
  var x0 = ox + 32.5, x1 = ox + 358, yT = oy + 18, yB = oy + 156;

  var x = d3.scaleLinear().domain([0, 360]).range([x0, x1]);
  var y = d3.scaleLinear().domain(p.dom).range([yB, yT]);
  var line = d3.line()
      .defined(function(d) { return d != null; })
      .x(function(d, i) { return x(i * 6); })
      .y(function(d) { return y(d); });

  var g = svg.append("g");

  svg.append("clipPath").attr("id", "clip" + k)
    .append("rect").attr("x", x0).attr("y", yT - 1).attr("width", x1 - x0).attr("height", yB - yT + 1.5);

  var plot = g.append("g").attr("clip-path", "url(#clip" + k + ")");

  // ensemble members
  plot.selectAll(".mem").data(p.members).enter().append("path")
      .attr("d", line)
      .attr("fill", "none")
      .attr("stroke", "#86b94c")
      .attr("stroke-width", 1);

  // reference lines
  p.ref.forEach(function(r) {
    var l = plot.append("line")
        .attr("x1", x0).attr("x2", x1).attr("y1", y(r.v)).attr("y2", y(r.v));
    if (r.s === "dot") l.attr("stroke", "#000").attr("stroke-width", 1).attr("stroke-dasharray", "1,2");
    if (r.s === "mag") l.attr("stroke", "#ff00ff").attr("stroke-width", 1.5).attr("stroke-dasharray", "5,3");
    if (r.s === "zero") l.attr("stroke", "#000").attr("stroke-width", 3);
  });

  // control, oper, ensemble mean
  plot.append("path").datum(p.ctrl).attr("d", line)
      .attr("fill", "none").attr("stroke", "#1a1aff").attr("stroke-width", 1.6).attr("stroke-dasharray", "5,3");
  plot.append("path").datum(p.oper).attr("d", line)
      .attr("fill", "none").attr("stroke", "#ff1a1a").attr("stroke-width", p.thick ? 2.2 : 1.5);
  plot.append("path").datum(p.mean).attr("d", line)
      .attr("fill", "none").attr("stroke", "#7a1010").attr("stroke-width", 3).attr("stroke-dasharray", "2.5,2.5");

  // y axes
  var ya = g.append("g").attr("transform", "translate(" + x0 + ",0)")
      .call(d3.axisLeft(y).tickValues(p.ticks).tickSize(5).tickSizeOuter(0).tickPadding(2));
  ya.attr("font-family", NARROW).attr("font-size", 10.5);
  ya.select(".domain").attr("stroke", "#000");
  ya.selectAll("text").attr("fill", "#000");

  var yr = g.append("g").attr("transform", "translate(" + x1 + ",0)")
      .call(d3.axisRight(y).tickValues(p.ticks).tickSize(4).tickSizeOuter(0).tickPadding(2));
  yr.attr("font-family", NARROW).attr("font-size", 10.5);
  yr.select(".domain").attr("stroke", "#666").attr("stroke-width", 2);
  yr.selectAll("text").attr("fill", "#000");

  // x axis
  g.append("line").attr("x1", x0).attr("x2", x1).attr("y1", yB + 0.5).attr("y2", yB + 0.5)
      .attr("stroke", "#000");
  var minor = d3.range(6, 360, 12);
  g.selectAll(".xt").data(minor).enter().append("line")
      .attr("x1", function(h) { return x(h); }).attr("x2", function(h) { return x(h); })
      .attr("y1", yB).attr("y2", yB + 4).attr("stroke", "#000").attr("stroke-width", 0.8);

  g.selectAll(".dl").data(dayLabels).enter().append("text")
      .attr("x", function(d, j) { return x(j * 24); })
      .attr("y", oy + 168)
      .attr("text-anchor", "middle").attr("font-size", 10).text(function(d) { return d; });
  g.selectAll(".nl").data(dayLabels.slice(1)).enter().append("text")
      .attr("x", function(d, j) { return x(j * 24 + 12); })
      .attr("y", oy + 161.5)
      .attr("text-anchor", "middle").attr("font-size", 6).text("00");

  g.append("text").attr("x", ox + 196).attr("y", oy + 179.5)
      .attr("text-anchor", "middle").attr("font-size", 12.5).attr("font-weight", "bold").text("Dag");
  g.append("text").attr("x", ox + 372).attr("y", oy + 177)
      .attr("text-anchor", "end").attr("font-size", 7).attr("font-weight", "bold")
      .attr("fill", "#1a1aff").text("Bron: ECMWF/KNMI");

  // y label
  g.append("text")
      .attr("transform", "translate(" + (ox + 16) + "," + (oy + 87) + ") rotate(-90)")
      .attr("text-anchor", "middle").attr("font-size", 12.5).attr("font-weight", "bold")
      .text(p.unit);

  // title
  var t = g.append("text").attr("x", ox + 195.5).attr("y", oy + 12)
      .attr("text-anchor", "middle").attr("font-size", 11.5)
      .style("white-space", "pre");
  t.append("tspan").text("Zondag    15 Januari   2012  (starttijd  Za 12 ");
  t.append("tspan").attr("font-weight", "bold").text("UTC)");

  // station and variable
  g.append("text").attr("x", ox + 320).attr("y", oy + 28.5)
      .attr("text-anchor", "middle").attr("font-size", 11).text("De Bilt");
  g.append("text").attr("x", ox + 320).attr("y", oy + 39.5)
      .attr("text-anchor", "middle").attr("font-size", 10.5).text(p.name);

  // legend
  var lg = [
    {label:"Control", tx:67, ty:27.5, ly:25,   stroke:"#3a3aff", w:1.6, dash:"5,2.5"},
    {label:"Oper",    tx:72, ty:34,   ly:31.5, stroke:p.thick ? "#ff5050" : "#ff1a1a", w:p.thick ? 2.5 : 1.3, dash:null},
    {label:"Ens mn",  tx:67, ty:40.5, ly:38,   stroke:"#7a1010", w:2.5, dash:"2,2"}
  ];
  lg.forEach(function(e) {
    g.append("line").attr("x1", ox + 35).attr("x2", ox + 57).attr("y1", oy + e.ly).attr("y2", oy + e.ly)
        .attr("stroke", e.stroke).attr("stroke-width", e.w).attr("stroke-dasharray", e.dash);
    g.append("text").attr("x", ox + e.tx).attr("y", oy + e.ty)
        .attr("font-size", 7).attr("font-weight", "bold").attr("fill", "#333").text(e.label);
  });
});

// panel separators and outer frame
svg.append("line").attr("x1", 389).attr("x2", 389).attr("y1", 0).attr("y2", H)
    .attr("stroke", "#3a3ae6").attr("stroke-width", 1.2);
[184, 369].forEach(function(v) {
  svg.append("line").attr("x1", 0).attr("x2", W).attr("y1", v).attr("y2", v)
      .attr("stroke", "#3a3ae6").attr("stroke-width", 1.2);
});
svg.append("rect").attr("x", 1.5).attr("y", 1).attr("width", W - 3).attr("height", H - 2.5)
    .attr("fill", "none").attr("stroke", "#b8b8f2").attr("stroke-width", 3);
</script>
